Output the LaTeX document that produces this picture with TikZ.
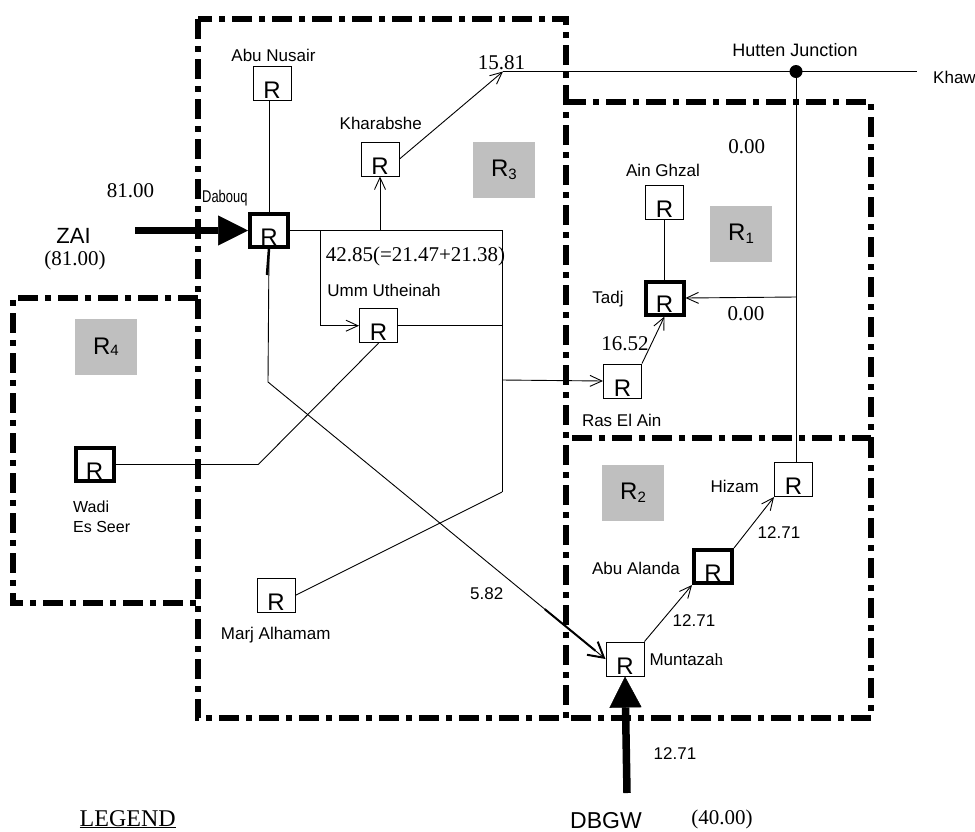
\documentclass[tikz,border=0pt]{standalone}
\usepackage{fontspec}
\setmainfont{Liberation Sans}
\newfontfamily\tms{Liberation Serif}
\usetikzlibrary{arrows.meta,calc}
\begin{document}
\begin{tikzpicture}[x=1pt,y=-1pt,
  lab/.style={font=\fontsize{17}{19}\selectfont, inner sep=0pt, anchor=base},
  num/.style={font=\tms\fontsize{21}{23}\selectfont, inner sep=0pt, anchor=base},
  rbox/.style={draw, line width=1pt, minimum width=38pt, minimum height=34pt, inner sep=0pt, text height=30pt, text depth=0pt, font=\fontsize{24}{24}\selectfont},
  rthick/.style={rbox, line width=4pt, minimum width=38pt, minimum height=33pt, text height=29pt},
  region/.style={line width=5.5pt, dash pattern=on 20pt off 7pt on 6pt off 7pt},
  reglab/.style={fill=black!25, minimum width=62pt, minimum height=56pt, inner sep=0pt, font=\fontsize{24}{24}\selectfont},
  conn/.style={line width=0.9pt},
  arr/.style={conn, -{Straight Barb[length=12pt,width=11pt]}},
  bigarr/.style={-{Triangle[length=30pt,width=30pt,line width=0.5pt]}},
]
\useasboundingbox (0,0) rectangle (975,831);

% regions
\draw[region] (198,19) rectangle (566,718);
\draw[region] (566,102) -- (871,102) -- (871,438) -- (566,438);
\draw[region] (871,438) -- (871,718) -- (566,718);
\draw[region] (198,298) -- (13,298) -- (13,603) -- (198,603);

% region labels
\node[reglab] (gR3) at (504,169.5) {R\raisebox{-3pt}{\fontsize{15}{15}\selectfont 3}};
\node[reglab] (gR1) at (741,234) {R\raisebox{-3pt}{\fontsize{15}{15}\selectfont 1}};
\node[reglab] (gR4) at (106,347) {R\raisebox{-1pt}{\fontsize{15}{15}\selectfont 4}};
\node[reglab] (gR2) at (633,493) {R\raisebox{-3pt}{\fontsize{15}{15}\selectfont 2}};

% reservoir nodes
\node[rbox] (abunusair) at (272,83.5) {R};
\node[rthick] (dabouq) at (269,230.5) {R};
\node[rbox] (kharabshe) at (380,159) {R};
\node[rbox] (umm) at (378.5,325.7) {R};
\node[rbox] (marj) at (276,595.3) {R};
\node[rthick] (wadi) at (94.5,464.5) {R};
\node[rbox] (aing) at (664.5,202.5) {R};
\node[rthick] (tadj) at (664.5,298) {R};
\node[rbox] (ras) at (622.5,381) {R};
\node[rbox] (hizam) at (793.5,479.5) {R};
\node[rthick] (abua) at (713,566.5) {R};
\node[rbox] (munt) at (625,659) {R};
\node[circle, fill, inner sep=0pt, minimum size=13pt] (hutten) at (796,71.5) {};

% junction coordinates
\coordinate (khaw) at (917,71.5);
\coordinate (t15) at (503,71.5);
\coordinate (ja) at (502,230.5);
\coordinate (jb) at (502,325.7);
\coordinate (jc) at (502,380);
\coordinate (jd) at (502,492);
\coordinate (kb) at (380,230.5);
\coordinate (ub) at (320,230.5);
\coordinate (wb) at (258.3,464.5);
\coordinate (db) at (268,382);
\coordinate (tj) at (796,297);
\coordinate (zai) at (135,230.5);
\coordinate (dbgw) at (627,793);
\coordinate (dstub) at (267,275);

% connectors
\draw[conn] (dabouq.north) -- (dabouq.north |- abunusair.south);
\draw[conn] (dabouq.east) -- (ja) -- (jd);
\draw[arr] (kb) -- (kharabshe.south);
\draw[arr] (kharabshe.east) -- (t15);
\draw[conn] (t15) -- (khaw);
\draw[conn] (hutten) -- (hutten |- hizam.north);
\draw[arr] (tj) -- (tadj.east);
\draw[conn] (aing.south) -- (tadj.north);
\draw[arr] (ras.north east) -- (tadj.south);
\draw[arr] (jc) -- (ras.west);
\draw[conn] (umm.east) -- (jb);
\draw[arr] (ub) -- (ub |- umm.west) -- (umm.west);
\draw[conn] (marj.east) -- (jd);
\draw[conn] (wadi.east) -- (wb) -- (umm.south);
\draw[line width=2.5pt] (dabouq.south) -- (dstub);
\draw[conn, -{Straight Barb[length=15pt,width=17pt,line width=2pt]}] (dabouq.south) -- (db) -- (munt.west);
\draw[line width=2pt] ($(db)!0.82!(munt.west)$) -- ($(db)!0.97!(munt.west)$);
\draw[arr] (munt.north east) -- (abua.south west);
\draw[arr] (abua.north east) -- (hizam.south west);
\draw[line width=6.3pt, bigarr] (zai) -- (dabouq.west);
\draw[line width=7.5pt, -{Triangle[length=31pt,width=32pt,line width=0.5pt]}] (dbgw) -- (munt.south);

% labels
\node[lab] (lAbuNusair) at (273.5,61) {Abu Nusair};
\node[lab, anchor=base west] (lDabouq) at (202,202.7) {\scalebox{0.76}[1]{Dabouq}};
\node[num] (n81) at (130.5,197.3) {81.00};
\node[lab, font=\fontsize{22}{24}\selectfont] (lZAI) at (73.5,243.5) {ZAI};
\node[num] (n81b) at (75,265) {(81.00)};
\node[num] (n1581) at (501.5,69.3) {15.81};
\node[lab] (lKh) at (380.8,129.3) {Kharabshe};
\node[num] (n4285) at (415.5,261) {42.85(=21.47+21.38)};
\node[lab] (lUmm) at (384,296) {Umm Utheinah};
\node[lab, font=\fontsize{18}{20}\selectfont] (lHutten) at (795,56) {Hutten Junction};
\node[lab, anchor=base west] (lKhaw) at (933,83.3) {Khaw};
\node[num] (n000a) at (746.7,153.3) {0.00};
\node[lab] (lAin) at (663,176.7) {Ain Ghzal};
\node[lab] (lTadj) at (608,303.3) {Tadj};
\node[num] (n000b) at (746,320.7) {0.00};
\node[num] (n1652) at (625,350) {16.52};
\node[lab] (lRas) at (621.7,426.7) {Ras El Ain};
\node[lab, anchor=base east] (lHizam) at (759,492) {Hizam};
\node[lab] (n1271a) at (779,538) {12.71};
\node[lab] (lAbuA) at (636,574) {Abu Alanda};
\node[lab] (n1271b) at (694,626.7) {12.71};
\node[lab, anchor=base west] (lMunt) at (649.3,665.3) {Muntaza{\tms h}};
\node[lab] (n1271c) at (675,759.3) {12.71};
\node[lab, font=\fontsize{23}{25}\selectfont] (lDBGW) at (606,828) {DBGW};
\node[num] (n40) at (722,824) {(40.00)};
\node[lab] (n582) at (486.7,599.3) {5.82};
\node[lab] (lMarj) at (275.7,639) {Marj Alhamam};
\node[lab, font=\fontsize{16}{20}\selectfont, anchor=base west] (lWadi) at (73,512.3) {Wadi};
\node[lab, font=\fontsize{16}{20}\selectfont, anchor=base west] (lEs) at (73,532.3) {Es Seer};
\node[num, font=\tms\fontsize{24}{26}\selectfont] (lLegend) at (127.7,826) {\underline{LEGEND}};
\end{tikzpicture}
\end{document}
